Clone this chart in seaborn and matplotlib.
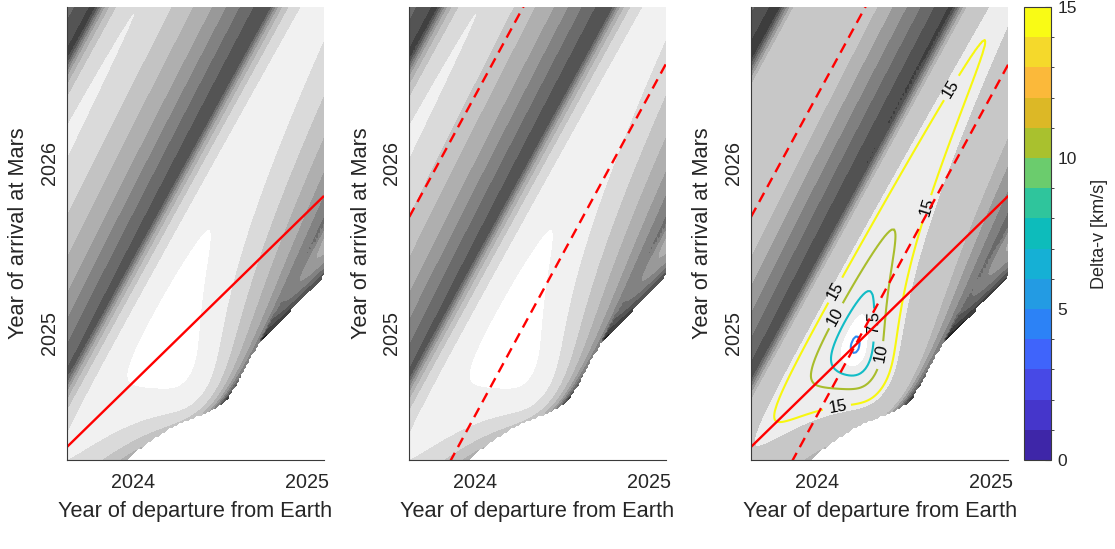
import numpy as np
import pandas as pd
import matplotlib
matplotlib.use("Agg")
import matplotlib.pyplot as plt
from matplotlib.colors import ListedColormap, BoundaryNorm
import matplotlib.colorbar as mcolorbar
import seaborn as sns

sns.set_style("white")
plt.rcParams["font.family"] = ["Liberation Sans", "DejaVu Sans"]

# ---- circular, coplanar Earth/Mars orbit model (AU, years) ----
MU_SUN = 4 * np.pi ** 2
R_EARTH = 1.0
R_MARS = 1.524
KMS_PER_AUYR = 4.74047
DEP_OPT = 2024.22                     # Earth departure of the Hohmann opportunity
T_MARS = R_MARS ** 1.5
TOF_H = 0.5 * ((R_EARTH + R_MARS) / 2) ** 1.5
ARR_OPT = DEP_OPT + TOF_H

# ---- plot window and grid ----
DEP_LIM = [2023.621, 2025.098]
ARR_LIM = [2024.253, 2026.918]
GRID_DAYS = 5.0
X_TICKS = [2024, 2025]
Y_TICKS = [2025, 2026]

# ---- shading and contour levels (km/s) ----
GRAY_LEVELS_A = [0, 10, 20, 30, 40, 50, 58, 66, 74, 82, 90, 1e9]
GRAY_SHADES_A = [1.0, 0.945, 0.855, 0.765, 0.685, 0.6, 0.51, 0.42, 0.33, 0.25, 0.12]
GRAY_LEVELS_B = [0, 6.5, 18, 40, 48, 56, 64, 72, 80, 88, 1e9]
GRAY_SHADES_B = [1.0, 0.93, 0.78, 0.7, 0.6, 0.5, 0.41, 0.32, 0.24, 0.14]
MIN_LEVEL = [5.7]
MIN_COLOR = ["#2f8cf0"]
LABEL_LEVELS = [7.5, 10, 15]
LABEL_COLORS = ["#12bcc6", "#a9bd2c", "#f7f70f"]
LABEL_DEP = [2024.78, 2024.64, 2024.10, 2024.11, 2024.32, 2024.37, 2024.12]
LABEL_ARR = [2026.43, 2025.74, 2025.25, 2025.09, 2025.06, 2024.88, 2024.58]

CBAR_TICKS = [0, 5, 10, 15]
CBAR_COLORS = ["#3e26a8", "#4536cb", "#4749e6", "#3f64fb", "#2c82f6",
               "#239be3", "#15b0d5", "#0dbcbb", "#2fc59c", "#6bcc6d",
               "#a9c12e", "#dcb826", "#fbb93a", "#f5d92b", "#f9fb15"]

TEXT = "#262626"
AXIS = "#3a3a3a"


def stumpff(z):
    c = np.full_like(z, 0.5)
    s = np.full_like(z, 1.0 / 6.0)
    p = z > 1e-6
    n = z < -1e-6
    sp = np.sqrt(z[p])
    c[p] = (1 - np.cos(sp)) / z[p]
    s[p] = (sp - np.sin(sp)) / sp ** 3
    sn = np.sqrt(-z[n])
    c[n] = (np.cosh(sn) - 1) / (-z[n])
    s[n] = (np.sinh(sn) - sn) / sn ** 3
    return c, s


def porkchop(dep, arr):
    """Total (departure + arrival) excess speed of the single-revolution
    prograde Lambert transfer; elliptic solutions only."""
    tof = arr - dep
    th_e = 2 * np.pi * (dep - DEP_OPT)
    th_m = np.pi + 2 * np.pi * (arr - ARR_OPT) / T_MARS
    r1v = R_EARTH * np.stack([np.cos(th_e), np.sin(th_e)], -1)
    r2v = R_MARS * np.stack([np.cos(th_m), np.sin(th_m)], -1)
    ve = np.sqrt(MU_SUN / R_EARTH) * np.stack([-np.sin(th_e), np.cos(th_e)], -1)
    vm = np.sqrt(MU_SUN / R_MARS) * np.stack([-np.sin(th_m), np.cos(th_m)], -1)
    dth = np.mod(th_m - th_e, 2 * np.pi)
    with np.errstate(all="ignore"):
        A = np.sin(dth) * np.sqrt(R_EARTH * R_MARS / (1 - np.cos(dth)))
        t = np.where(tof > 0, tof, 1e-6)
        lo = np.full_like(t, -400.0)
        hi = np.full_like(t, 4 * np.pi ** 2 - 1e-9)
        for _ in range(100):
            z = 0.5 * (lo + hi)
            C, S = stumpff(z)
            y = R_EARTH + R_MARS + A * (z * S - 1) / np.sqrt(C)
            yy = np.abs(y)
            F = np.where(y > 0, (yy / C) ** 1.5 * S + A * np.sqrt(yy) - np.sqrt(MU_SUN) * t, -np.inf)
            below = F < 0
            lo = np.where(below, z, lo)
            hi = np.where(below, hi, z)
        z = 0.5 * (lo + hi)
        C, S = stumpff(z)
        y = R_EARTH + R_MARS + A * (z * S - 1) / np.sqrt(C)
        f = 1 - y / R_EARTH
        g = A * np.sqrt(np.abs(y) / MU_SUN)
        gd = 1 - y / R_MARS
        v1 = (r2v - f[..., None] * r1v) / g[..., None]
        v2 = (gd[..., None] * r2v - r1v) / g[..., None]
        dv = (np.linalg.norm(v1 - ve, axis=-1) + np.linalg.norm(v2 - vm, axis=-1)) * KMS_PER_AUYR
    dv[(tof <= 0) | (z < 0) | ~np.isfinite(dv)] = np.nan
    return np.minimum(dv, 1e6)


step = GRID_DAYS / 365.25
dep_grid = np.arange(DEP_LIM[0], DEP_LIM[1] + step, step)
arr_grid = np.arange(ARR_LIM[0], ARR_LIM[1] + step, step)
DEP, ARR = np.meshgrid(dep_grid, arr_grid)
DV = porkchop(DEP, ARR)

# reference lines: Hohmann time of flight and 180 deg transfer angle
line_dep = np.array(DEP_LIM)
lines = pd.DataFrame({
    "dep": np.concatenate([line_dep] * 3),
    "arr": np.concatenate([line_dep + TOF_H,
                           ARR_OPT + T_MARS * (line_dep - DEP_OPT),
                           ARR_OPT + T_MARS * (line_dep - DEP_OPT + 1)]),
    "kind": ["tof"] * 2 + ["half0"] * 2 + ["half1"] * 2,
})

fig = plt.figure(figsize=(11.15, 5.49), dpi=100)
fig.patch.set_facecolor("white")
W, H = 1115.0, 549.0
ax_bottom, ax_top = 460.0, 7.0
lefts = [67.0, 409.3, 751.0]
widths = [257.0, 256.4, 257.3]
axes = [fig.add_axes([l / W, (H - ax_bottom) / H, w / W, (ax_bottom - ax_top) / H])
        for l, w in zip(lefts, widths)]


def draw_line(ax, kind, dashed):
    d = lines[lines["kind"] == kind]
    sns.lineplot(data=d, x="dep", y="arr", ax=ax, color="#ff0000", lw=1.7,
                 sort=False, estimator=None, zorder=5)
    ln = ax.lines[-1]
    ln.set_solid_capstyle("butt")
    if dashed:
        ln.set_dashes([4.4, 2.8])
        ln.set_dash_capstyle("butt")


for i, ax in enumerate(axes):
    if i < 2:
        ax.contourf(DEP, ARR, DV, levels=GRAY_LEVELS_A,
                    colors=[(s, s, s) for s in GRAY_SHADES_A], zorder=1)
    else:
        ax.contourf(DEP, ARR, DV, levels=GRAY_LEVELS_B,
                    colors=[(s, s, s) for s in GRAY_SHADES_B], zorder=1)
        ax.contour(DEP, ARR, DV, levels=MIN_LEVEL, colors=MIN_COLOR,
                   linewidths=1.5, zorder=3)
        cs = ax.contour(DEP, ARR, DV, levels=LABEL_LEVELS, colors=LABEL_COLORS,
                        linewidths=1.5, zorder=3)
        labels = ax.clabel(cs, inline=True, inline_spacing=5,
                           fontsize=12, colors="black", fmt="%g",
                           manual=list(zip(LABEL_DEP, LABEL_ARR)))
        for t in labels:
            t.set_zorder(4)

    if i in (0, 2):
        draw_line(ax, "tof", False)
    if i in (1, 2):
        draw_line(ax, "half0", True)
        draw_line(ax, "half1", True)

    ax.set_xlim(DEP_LIM)
    ax.set_ylim(ARR_LIM)
    ax.set_axisbelow(True)
    ax.set_facecolor("white")
    ax.grid(False)
    for side in ("top", "right"):
        ax.spines[side].set_visible(False)
    for side in ("left", "bottom"):
        ax.spines[side].set_color(AXIS)
        ax.spines[side].set_linewidth(0.8)
        ax.spines[side].set_zorder(6)
    ax.set_xticks(X_TICKS)
    ax.set_yticks(Y_TICKS)
    ax.set_xticklabels([str(v) for v in X_TICKS])
    ax.set_yticklabels([str(v) for v in Y_TICKS], rotation=90, va="center", ha="right")
    ax.tick_params(direction="in", length=3.5, width=0.8, color=AXIS,
                   labelsize=14.2, labelcolor=TEXT, top=False, right=False)
    ax.tick_params(axis="x", pad=9)
    ax.tick_params(axis="y", pad=6)
    ax.set_xlabel("Year of departure from Earth", fontsize=15.7, color=TEXT)
    ax.set_ylabel("Year of arrival at Mars", fontsize=15.7, color=TEXT)
    ax.xaxis.label.set_va("center")
    ax.yaxis.label.set_va("center")
    ax.xaxis.set_label_coords(0.5, -51.0 / 453.0)
    ax.yaxis.set_label_coords(-48.0 / 257.0, 0.5)

# colour bar
cax = fig.add_axes([1024.3 / W, (H - ax_bottom) / H, 26.4 / W, (ax_bottom - ax_top) / H])
cmap = ListedColormap(CBAR_COLORS)
norm = BoundaryNorm(np.arange(len(CBAR_COLORS) + 1), len(CBAR_COLORS))
cb = mcolorbar.ColorbarBase(cax, cmap=cmap, norm=norm, ticks=CBAR_TICKS,
                            orientation="vertical")
cb.outline.set_edgecolor(AXIS)
cb.outline.set_linewidth(0.8)
cax.tick_params(direction="in", length=4, width=0.8, color=AXIS,
                labelsize=12.5, labelcolor=TEXT, right=True, left=False, pad=5)
cb.set_label("Delta-v [km/s]", fontsize=13, color=TEXT, labelpad=10)

fig.savefig("out.png", dpi=100, facecolor="white")
